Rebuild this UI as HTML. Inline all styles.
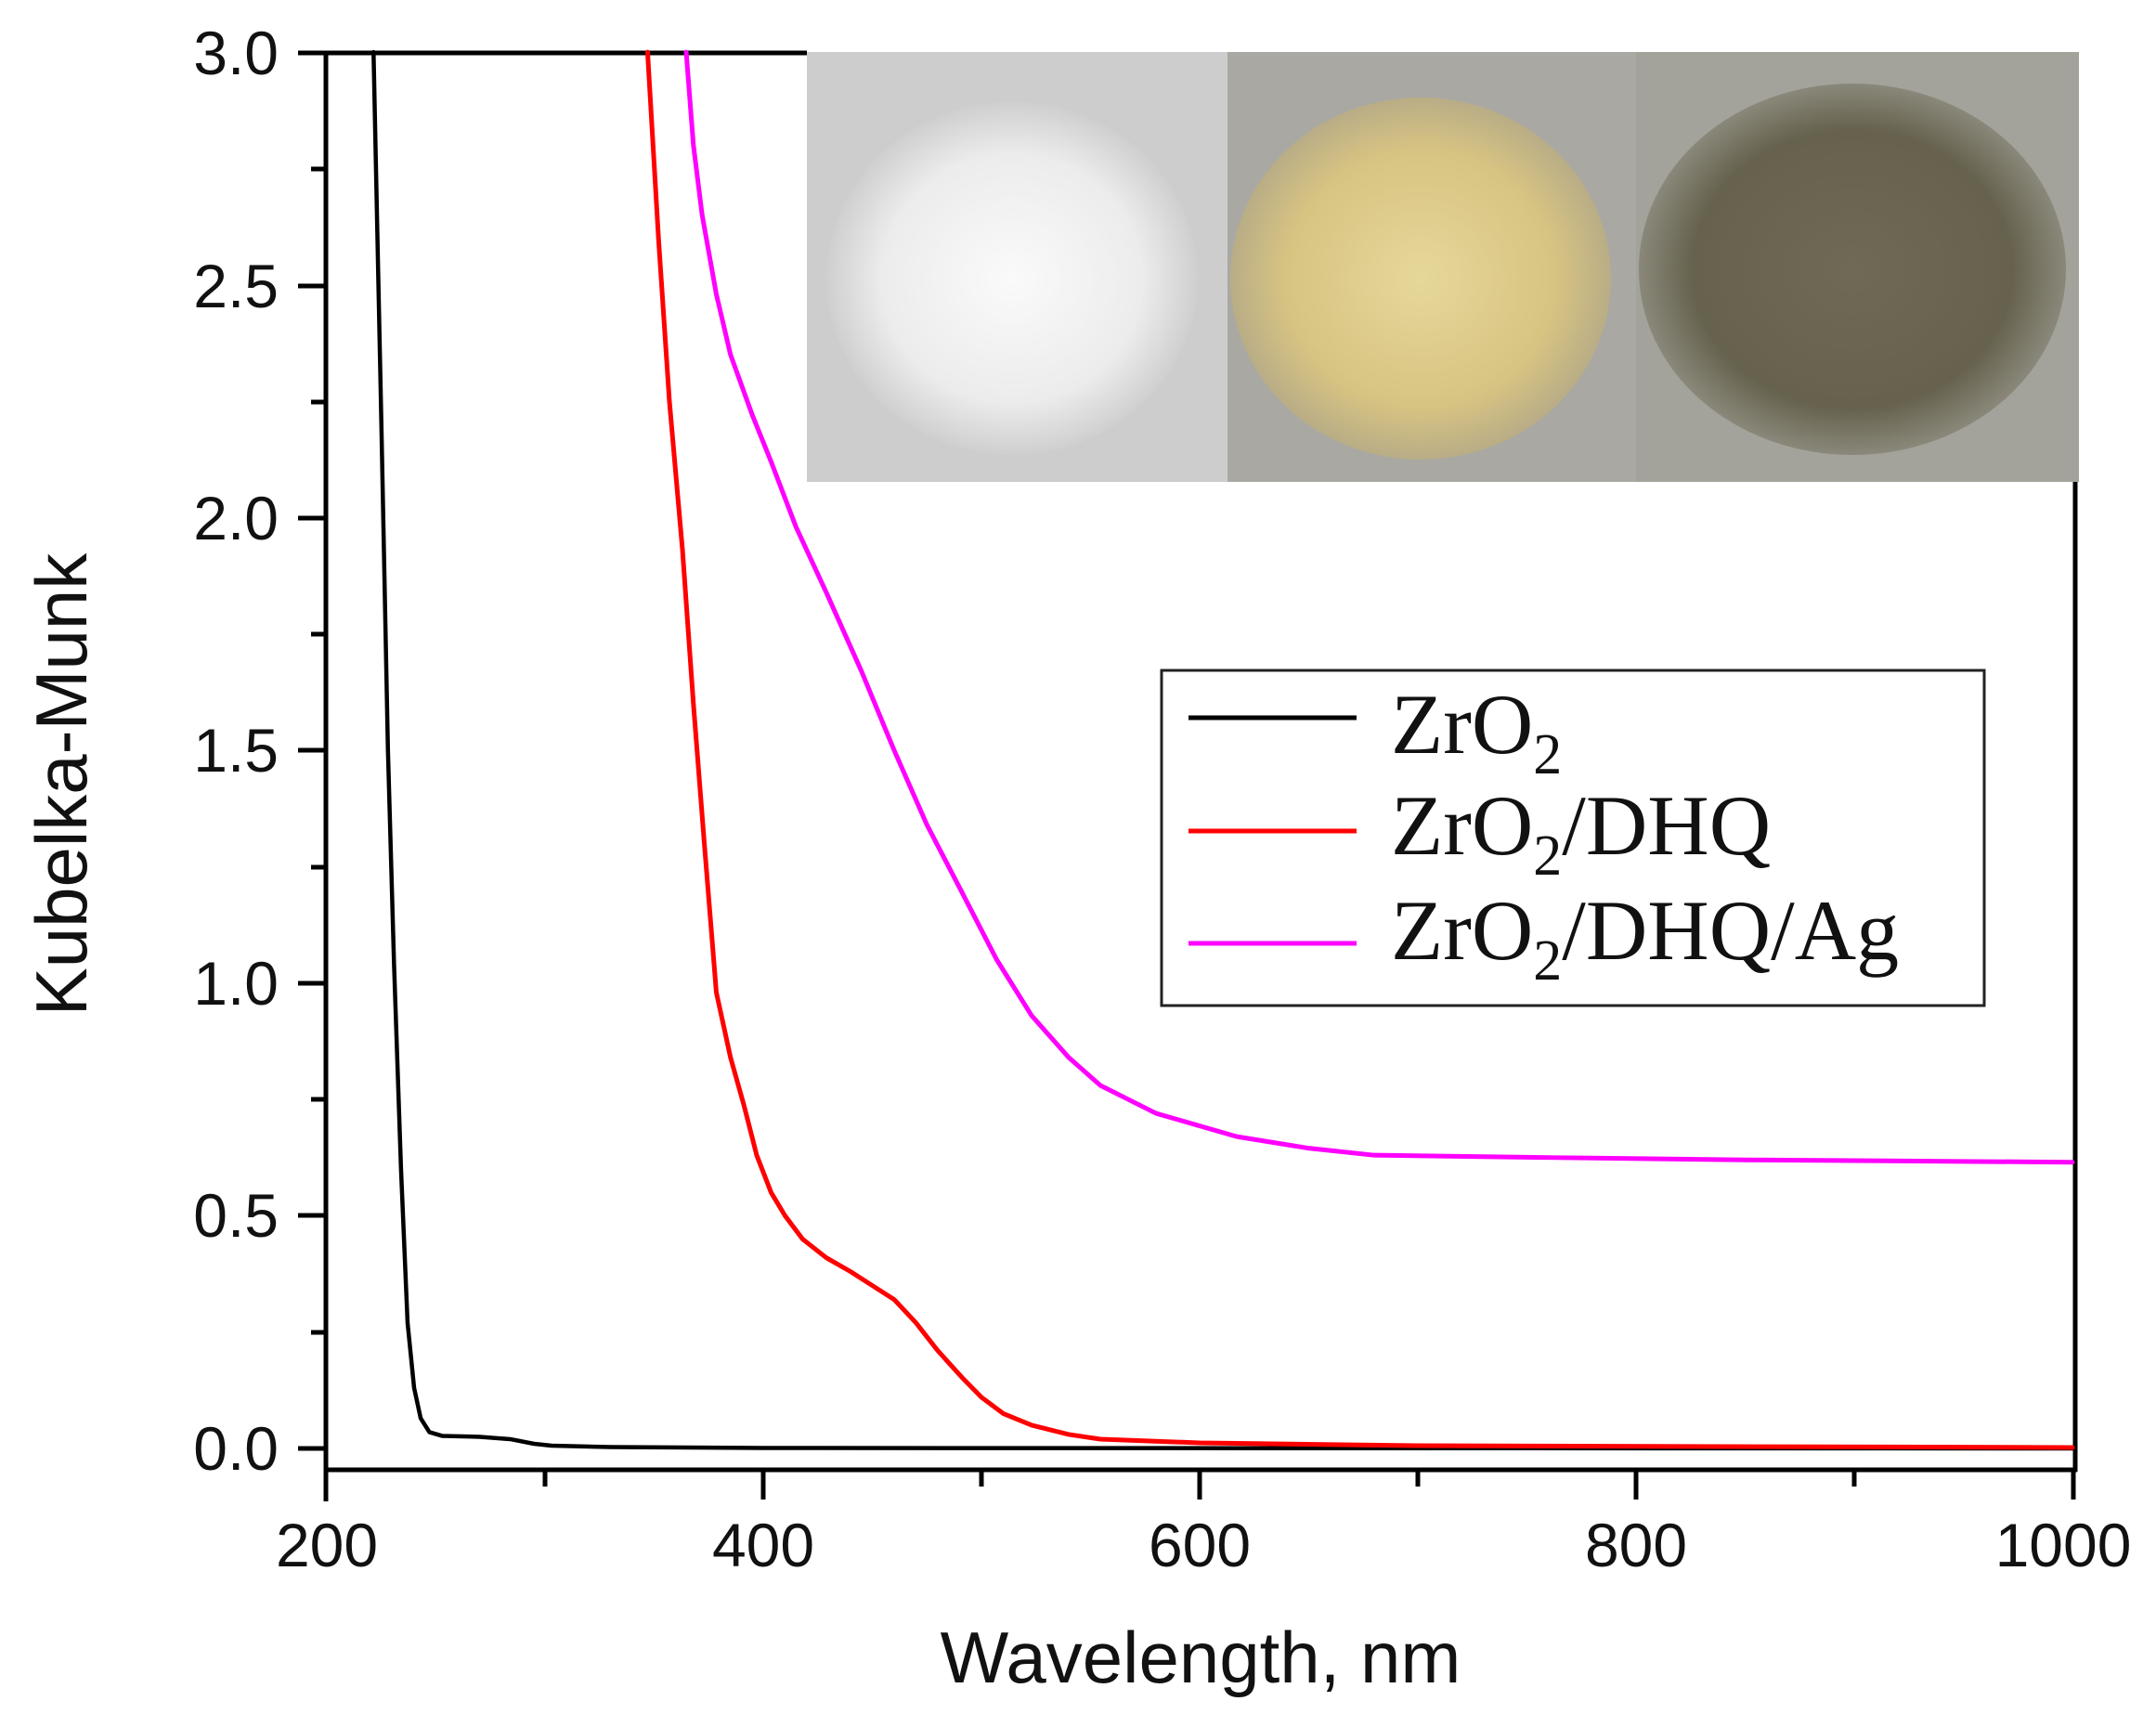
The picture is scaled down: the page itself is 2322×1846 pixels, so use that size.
<!DOCTYPE html>
<html><head><meta charset="utf-8"><style>
html,body{margin:0;padding:0;background:#fff;}
svg{display:block;}
</style></head><body>
<svg width="2322" height="1846" viewBox="0 0 2322 1846" xmlns="http://www.w3.org/2000/svg">
<rect width="2322" height="1846" fill="#fff"/>
<defs>
<radialGradient id="g1" cx="50%" cy="50%" r="50%"><stop offset="0" stop-color="#fafafa"/><stop offset="0.7" stop-color="#ececec"/><stop offset="1" stop-color="#cfcfcf"/></radialGradient>
<radialGradient id="g2" cx="50%" cy="50%" r="50%"><stop offset="0" stop-color="#e6d79a"/><stop offset="0.7" stop-color="#d8c482"/><stop offset="1" stop-color="#b9ad86"/></radialGradient>
<radialGradient id="g3" cx="50%" cy="50%" r="50%"><stop offset="0" stop-color="#6e6a55"/><stop offset="0.75" stop-color="#66624e"/><stop offset="1" stop-color="#8a887a"/></radialGradient>
</defs>
<rect x="869" y="56" width="454" height="463" fill="#cdcdcd"/>
<ellipse cx="1090" cy="300" rx="200" ry="190" fill="url(#g1)"/>
<rect x="1322" y="56" width="440" height="463" fill="#a9a8a2"/>
<ellipse cx="1530" cy="300" rx="205" ry="195" fill="url(#g2)"/>
<rect x="1762" y="56" width="477" height="463" fill="#a3a29b"/>
<ellipse cx="1995" cy="290" rx="230" ry="200" fill="url(#g3)"/>
<g stroke="#000" stroke-width="5" fill="none">
<line x1="321" y1="57" x2="869" y2="57"/>
<line x1="351" y1="55" x2="351" y2="1617"/>
<line x1="349" y1="1583" x2="2237" y2="1583"/>
<line x1="2235" y1="519" x2="2235" y2="1585"/>
</g>
<g stroke="#000" stroke-width="5">
<line x1="321" y1="1560" x2="351" y2="1560"/>
<line x1="321" y1="1309" x2="351" y2="1309"/>
<line x1="321" y1="1059" x2="351" y2="1059"/>
<line x1="321" y1="808" x2="351" y2="808"/>
<line x1="321" y1="558" x2="351" y2="558"/>
<line x1="321" y1="308" x2="351" y2="308"/>
<line x1="335" y1="1435" x2="351" y2="1435"/>
<line x1="335" y1="1184" x2="351" y2="1184"/>
<line x1="335" y1="934" x2="351" y2="934"/>
<line x1="335" y1="683" x2="351" y2="683"/>
<line x1="335" y1="433" x2="351" y2="433"/>
<line x1="335" y1="182" x2="351" y2="182"/>
<line x1="822" y1="1583" x2="822" y2="1615"/>
<line x1="1292" y1="1583" x2="1292" y2="1615"/>
<line x1="1762" y1="1583" x2="1762" y2="1615"/>
<line x1="2233" y1="1583" x2="2233" y2="1615"/>
<line x1="587" y1="1583" x2="587" y2="1601"/>
<line x1="1057" y1="1583" x2="1057" y2="1601"/>
<line x1="1527" y1="1583" x2="1527" y2="1601"/>
<line x1="1997" y1="1583" x2="1997" y2="1601"/>
</g>
<g font-family="Liberation Sans, Arial, sans-serif" font-size="66" fill="#111" text-anchor="end">
<text x="300" y="1583">0.0</text>
<text x="300" y="1332">0.5</text>
<text x="300" y="1082">1.0</text>
<text x="300" y="831">1.5</text>
<text x="300" y="581">2.0</text>
<text x="300" y="331">2.5</text>
<text x="300" y="80">3.0</text>
</g>
<g font-family="Liberation Sans, Arial, sans-serif" font-size="66" fill="#111" text-anchor="middle">
<text x="352" y="1687">200</text>
<text x="822" y="1687">400</text>
<text x="1292" y="1687">600</text>
<text x="1762" y="1687">800</text>
<text x="2222" y="1687">1000</text>
</g>
<text x="1293" y="1812" font-family="Liberation Sans, Arial, sans-serif" font-size="78" fill="#111" text-anchor="middle">Wavelength, nm</text>
<text transform="translate(93,845) rotate(-90)" font-family="Liberation Sans, Arial, sans-serif" font-size="78" fill="#111" text-anchor="middle">Kubelka-Munk</text>
<g transform="translate(352,1560) scale(2.35,-501.3)" fill="none" stroke-linejoin="round" stroke-linecap="round">
<path vector-effect="non-scaling-stroke" stroke="#000" stroke-width="4.5" d="M21.4,3 L25,2.2 L28,1.5 L30.8,1.04 L34,0.6 L37,0.27 L40,0.13 L43,0.065 L47,0.035 L52.8,0.027 L70,0.025 L84,0.02 L95,0.01 L103,0.006 L130,0.003 L200,0.001 L800,0"/>
<path vector-effect="non-scaling-stroke" stroke="#ff0000" stroke-width="5" d="M147,3 L152,2.6 L157,2.25 L163,1.93 L168,1.6 L173,1.3 L178.5,0.98 L185,0.84 L191,0.74 L197,0.63 L203.6,0.55 L210,0.5 L218,0.45 L228.8,0.41 L240,0.38 L250,0.35 L260,0.32 L270,0.27 L280,0.21 L291.6,0.15 L300,0.11 L310,0.075 L323,0.05 L340,0.03 L354.5,0.02 L400,0.012 L500,0.006 L800,0.002"/>
<path vector-effect="non-scaling-stroke" stroke="#ff00ff" stroke-width="5" d="M164.7,3 L168,2.8 L172,2.65 L178.5,2.48 L185,2.35 L195,2.22 L203.6,2.12 L215,1.98 L228.8,1.84 L245,1.67 L260,1.5 L275,1.34 L291.6,1.19 L307,1.05 L323,0.93 L340,0.84 L354.5,0.78 L380,0.72 L417,0.67 L450,0.645 L480,0.63 L560,0.625 L650,0.62 L800,0.615"/>
</g>
<rect x="1251" y="722" width="886" height="361" fill="#fff" stroke="#222" stroke-width="3"/>
<line x1="1280" y1="773" x2="1461" y2="773" stroke="#000" stroke-width="5"/>
<line x1="1280" y1="895" x2="1461" y2="895" stroke="#ff0000" stroke-width="5"/>
<line x1="1280" y1="1016" x2="1461" y2="1016" stroke="#ff00ff" stroke-width="5"/>
<g font-family="Liberation Serif, Times New Roman, serif" font-size="92" fill="#111">
<text x="1498" y="811">ZrO<tspan font-size="62" dy="22">2</tspan></text>
<text x="1498" y="920">ZrO<tspan font-size="62" dy="22">2</tspan><tspan dy="-22">/DHQ</tspan></text>
<text x="1498" y="1033">ZrO<tspan font-size="62" dy="22">2</tspan><tspan dy="-22">/DHQ/Ag</tspan></text>
</g>
</svg>
</body></html>
